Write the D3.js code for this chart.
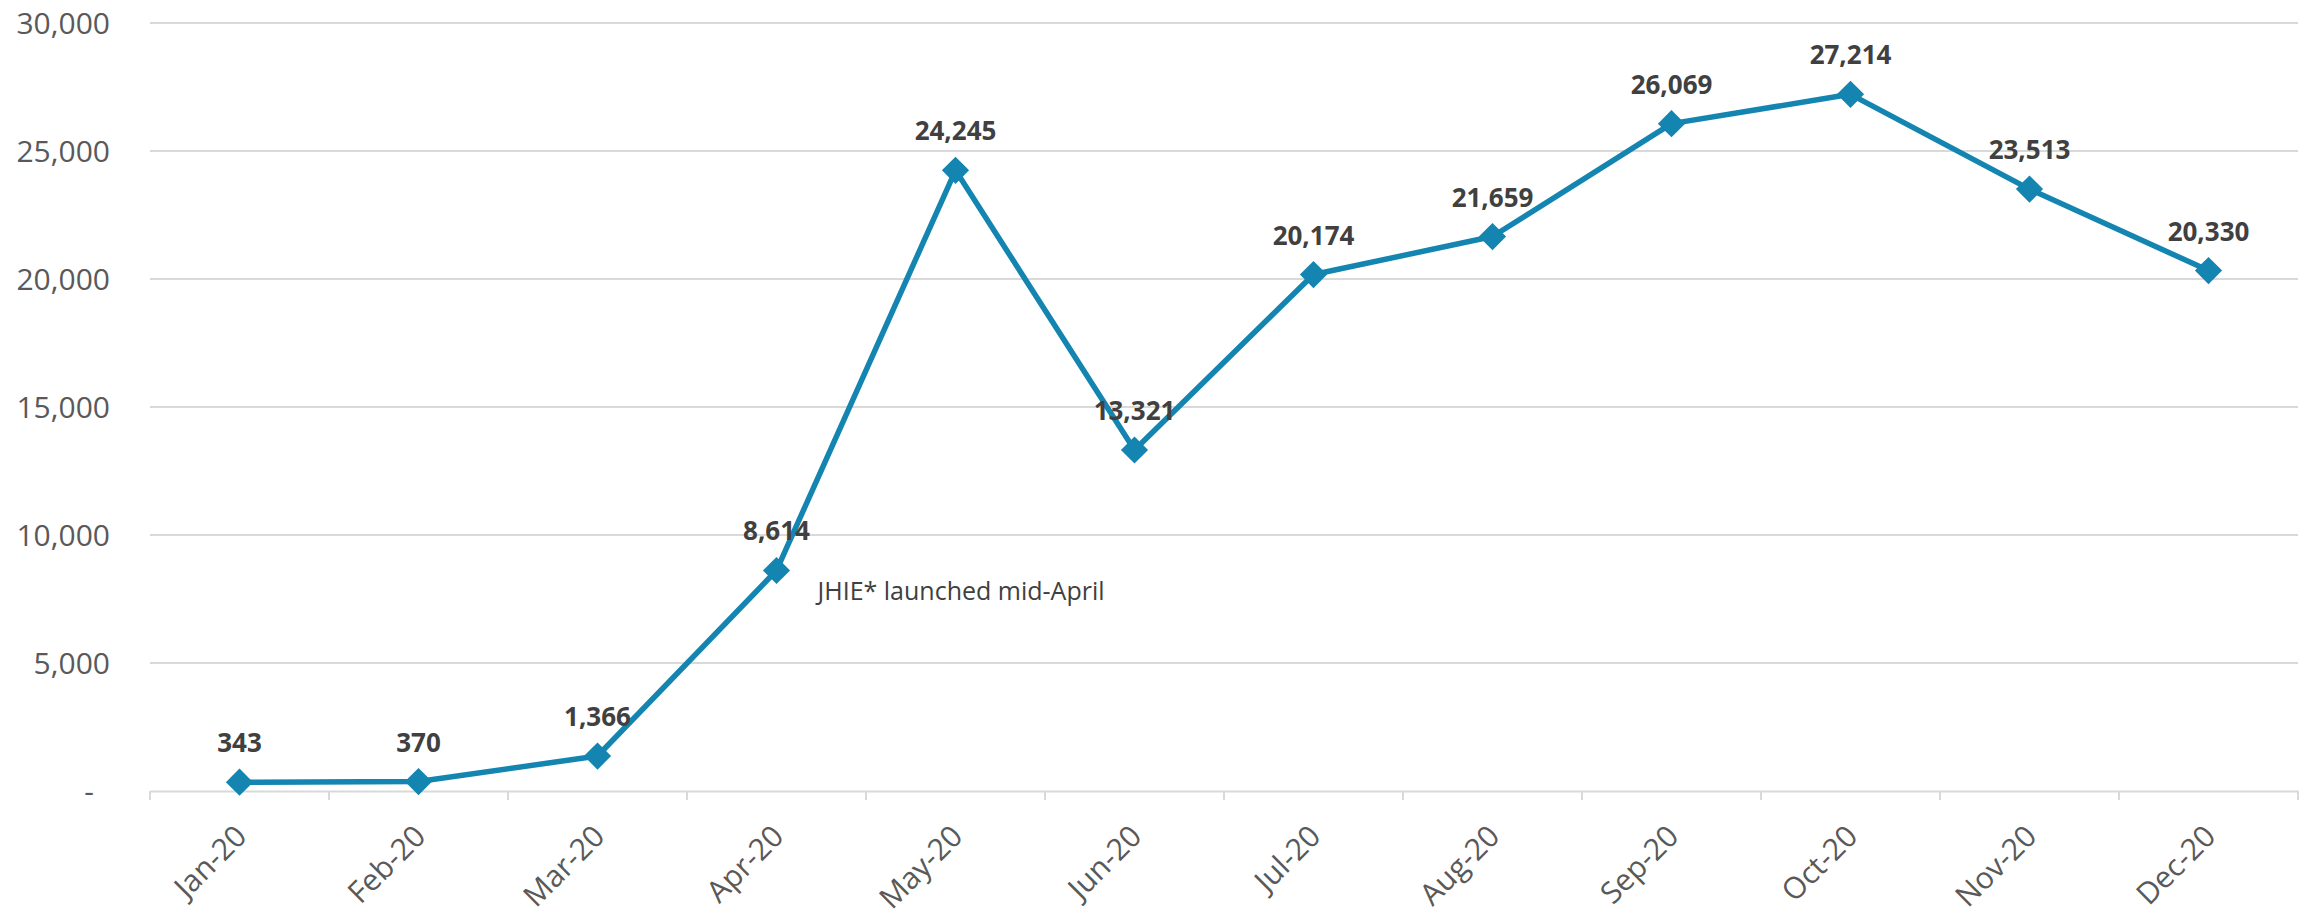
<!DOCTYPE html>
<html>
<head>
<meta charset="utf-8">
<script src="https://cdn.jsdelivr.net/npm/d3@7"></script>
<style>
  body { margin: 0; background: #fff; }
  svg { display: block; font-family: "Open Sans", sans-serif; }
</style>
</head>
<body>
<div id="chart"></div>
<script>
var maanden = ["Jan-20", "Feb-20", "Mar-20", "Apr-20", "May-20", "Jun-20", "Jul-20", "Aug-20", "Sep-20", "Oct-20", "Nov-20", "Dec-20"];
var waarden = [343, 370, 1366, 8614, 24245, 13321, 20174, 21659, 26069, 27214, 23513, 20330];
var yticks = [0, 5000, 10000, 15000, 20000, 25000, 30000];
var notitie = "JHIE* launched mid-April";

var breedte = 2311, hoogte = 919;
var marge = { top: 23, right: 13, bottom: 128, left: 150 };
var blauw = "#1385b0";

var svg = d3.select("#chart")
    .append("svg")
    .attr("width", breedte)
    .attr("height", hoogte);

var x = d3.scaleBand()
    .domain(maanden)
    .range([marge.left, breedte - marge.right]);

var y = d3.scaleLinear()
    .domain([0, 30000])
    .range([hoogte - marge.bottom, marge.top]);

var fmt = d3.format(",");

// gridlines
svg.append("g")
    .selectAll("line")
    .data(yticks.slice(1))
    .enter()
    .append("line")
    .attr("x1", marge.left)
    .attr("x2", breedte - marge.right)
    .attr("y1", function (d) { return y(d); })
    .attr("y2", function (d) { return y(d); })
    .attr("stroke", "#d9d9d9")
    .attr("stroke-width", 2);

// y axis labels
var yas = svg.append("g")
    .attr("transform", "translate(" + (marge.left - 40) + ",0)")
    .call(d3.axisLeft(y).tickValues(yticks).tickSize(0)
        .tickFormat(function (d) { return d === 0 ? "-" : fmt(d); }));
yas.select(".domain").remove();
yas.selectAll("text")
    .attr("x", 0)
    .attr("dy", "0.35em")
    .attr("font-size", 30)
    .attr("font-family", "Open Sans")
    .attr("fill", "#595959")
    .attr("dx", function (d) { return d === 0 ? -16 : 0; });

// x axis
var xas = svg.append("g")
    .attr("transform", "translate(0," + y(0) + ")")
    .call(d3.axisBottom(x).tickSize(0).tickFormat(""));
xas.select(".domain").attr("stroke", "#d9d9d9").attr("stroke-width", 2);

var grenzen = maanden.map(function (m) { return x(m); }).concat([x.range()[1]]);
svg.append("g")
    .selectAll("line")
    .data(grenzen)
    .enter()
    .append("line")
    .attr("x1", function (d) { return d; })
    .attr("x2", function (d) { return d; })
    .attr("y1", y(0))
    .attr("y2", y(0) + 9)
    .attr("stroke", "#d9d9d9")
    .attr("stroke-width", 2);

svg.append("g")
    .selectAll("text")
    .data(maanden)
    .enter()
    .append("text")
    .attr("transform", function (d) {
        return "translate(" + (x(d) + x.bandwidth() / 2 + 9) + "," + (y(0) + 47) + ") rotate(-45)";
    })
    .attr("text-anchor", "end")
    .attr("font-size", 30)
    .attr("fill", "#595959")
    .text(function (d) { return d; });

// line
var lijn = d3.line()
    .x(function (d, i) { return x(maanden[i]) + x.bandwidth() / 2; })
    .y(function (d) { return y(d); });

svg.append("path")
    .datum(waarden)
    .attr("d", lijn)
    .attr("fill", "none")
    .attr("stroke", blauw)
    .attr("stroke-width", 5.5)
    .attr("stroke-linejoin", "round");

// markers
svg.append("g")
    .selectAll("path")
    .data(waarden)
    .enter()
    .append("path")
    .attr("d", d3.symbol().type(d3.symbolSquare).size(370))
    .attr("transform", function (d, i) {
        return "translate(" + (x(maanden[i]) + x.bandwidth() / 2) + "," + y(d) + ") rotate(45)";
    })
    .attr("fill", blauw);

// data labels
svg.append("g")
    .selectAll("text")
    .data(waarden)
    .enter()
    .append("text")
    .attr("x", function (d, i) { return x(maanden[i]) + x.bandwidth() / 2; })
    .attr("y", function (d) { return y(d) - 30; })
    .attr("text-anchor", "middle")
    .attr("font-size", 26)
    .attr("font-weight", "bold")
    .attr("fill", "#404040")
    .text(function (d) { return fmt(d); });

// annotation
svg.append("text")
    .attr("x", x("Apr-20") + x.bandwidth() / 2 + 41)
    .attr("y", y(waarden[3]) + 30)
    .attr("font-size", 25)
    .attr("fill", "#404040")
    .text(notitie);
</script>
</body>
</html>
